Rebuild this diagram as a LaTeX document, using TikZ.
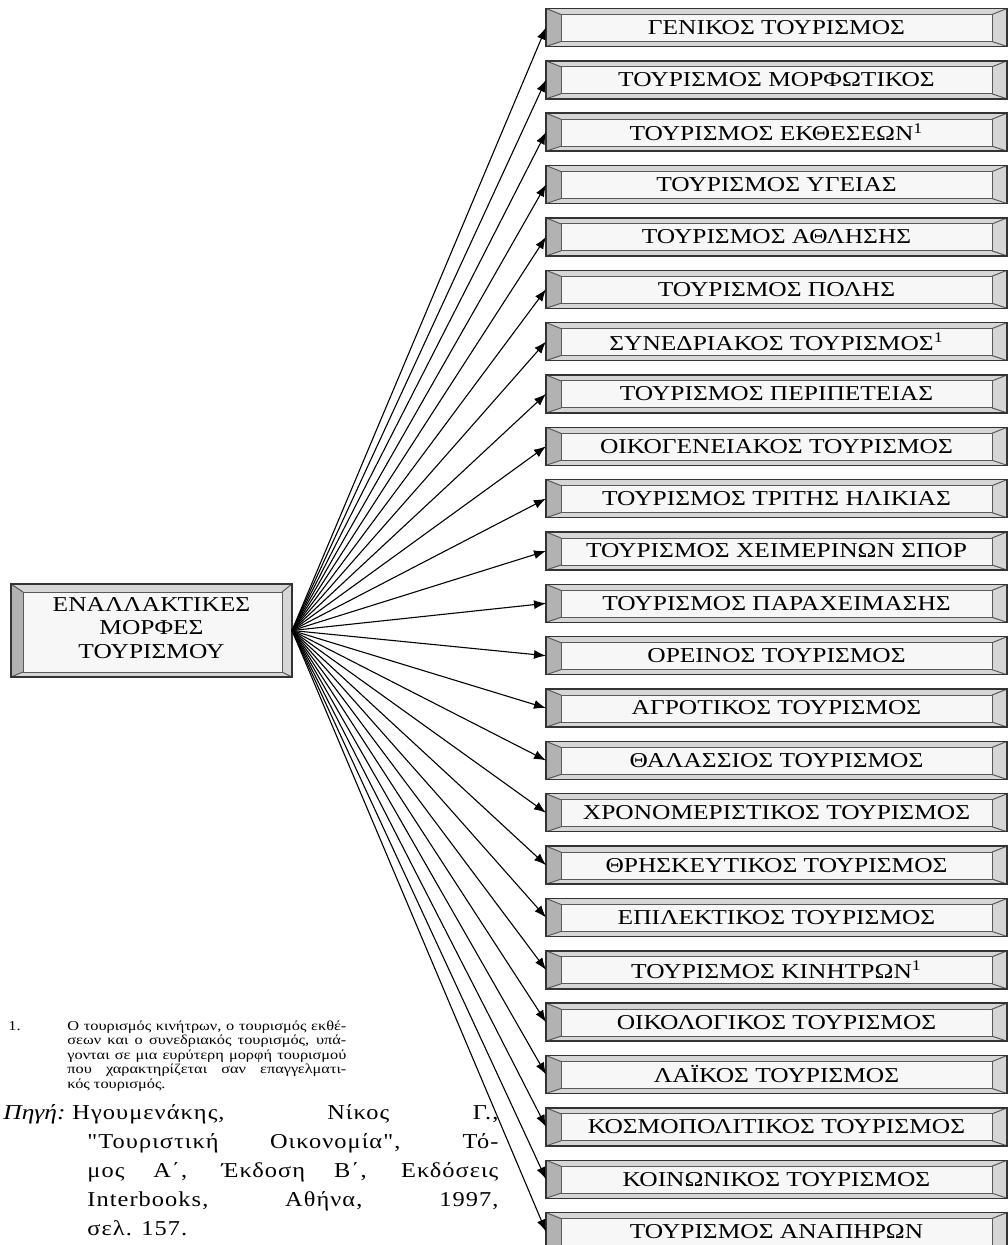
\documentclass[tikz,border=0pt]{standalone}
\usepackage{fontspec}
\setmainfont{Liberation Serif}
\newfontfamily\widefont[FakeStretch=1.2]{Liberation Serif}
\newfontfamily\reffont[FakeStretch=1.15,LetterSpace=5]{Liberation Serif}
\usetikzlibrary{arrows.meta,calc}

\tikzset{
  framebox/.style n args={4}{draw=black!80, line width=0.7pt, fill=black!16,
    inner sep=0pt, outer sep=0pt,
    path picture={
      \coordinate (pnw) at (path picture bounding box.north west);
      \coordinate (pse) at (path picture bounding box.south east);
      \coordinate (qnw) at ($(pnw)+(#1,#3)$);
      \coordinate (qse) at ($(pse)+(-#2,-#4)$);
      \fill[black!30] (pnw) -- (qnw) -- (qnw|-qse) -- (pnw|-pse) -- cycle;
      \filldraw[fill=black!3, draw=black!65, line width=0.5pt] (qnw) rectangle (qse);
      \draw[black!65, line width=0.5pt] (pnw) -- (qnw) (pse) -- (qse)
        (pnw-|pse) -- (qnw-|qse) (pnw|-pse) -- (qnw|-qse);
    }},
  formbox/.style={framebox={15}{15}{6}{5}, minimum width=230.5pt, minimum height=19pt,
    font=\widefont\fontsize{10.6}{12}\selectfont},
  conn/.style={-{Latex[length=6pt,width=4.5pt]}, line width=0.55pt}
}

\begin{document}
\begin{tikzpicture}[x=0.5pt, y=-0.5pt]
\pgfmathsetmacro{\pitch}{52.35}
\useasboundingbox (0,0) rectangle (1007,1245);

%% main box
\node[framebox={12}{10}{8}{5}, minimum width=140.5pt, minimum height=46.5pt,
  font=\widefont\fontsize{10.6}{11.75}\selectfont]
  (alt) at (151.5,630.5) {\raisebox{-1.5pt}[0pt][0pt]{\parbox{130pt}{\centering ΕΝΑΛΛΑΚΤΙΚΕΣ\\ΜΟΡΦΕΣ\\ΤΟΥΡΙΣΜΟΥ}}};

%% forms of tourism
\foreach \kind [count=\i] in {ΓΕΝΙΚΟΣ ΤΟΥΡΙΣΜΟΣ, ΤΟΥΡΙΣΜΟΣ ΜΟΡΦΩΤΙΚΟΣ,
    ΤΟΥΡΙΣΜΟΣ ΕΚΘΕΣΕΩΝ\textsuperscript{1}, ΤΟΥΡΙΣΜΟΣ ΥΓΕΙΑΣ,
    ΤΟΥΡΙΣΜΟΣ ΑΘΛΗΣΗΣ, ΤΟΥΡΙΣΜΟΣ ΠΟΛΗΣ,
    ΣΥΝΕΔΡΙΑΚΟΣ ΤΟΥΡΙΣΜΟΣ\textsuperscript{1}, ΤΟΥΡΙΣΜΟΣ ΠΕΡΙΠΕΤΕΙΑΣ,
    ΟΙΚΟΓΕΝΕΙΑΚΟΣ ΤΟΥΡΙΣΜΟΣ, ΤΟΥΡΙΣΜΟΣ ΤΡΙΤΗΣ ΗΛΙΚΙΑΣ,
    ΤΟΥΡΙΣΜΟΣ ΧΕΙΜΕΡΙΝΩΝ ΣΠΟΡ, ΤΟΥΡΙΣΜΟΣ ΠΑΡΑΧΕΙΜΑΣΗΣ,
    ΟΡΕΙΝΟΣ ΤΟΥΡΙΣΜΟΣ, ΑΓΡΟΤΙΚΟΣ ΤΟΥΡΙΣΜΟΣ,
    ΘΑΛΑΣΣΙΟΣ ΤΟΥΡΙΣΜΟΣ, ΧΡΟΝΟΜΕΡΙΣΤΙΚΟΣ ΤΟΥΡΙΣΜΟΣ,
    ΘΡΗΣΚΕΥΤΙΚΟΣ ΤΟΥΡΙΣΜΟΣ, ΕΠΙΛΕΚΤΙΚΟΣ ΤΟΥΡΙΣΜΟΣ,
    ΤΟΥΡΙΣΜΟΣ ΚΙΝΗΤΡΩΝ\textsuperscript{1}, ΟΙΚΟΛΟΓΙΚΟΣ ΤΟΥΡΙΣΜΟΣ,
    ΛΑΪΚΟΣ ΤΟΥΡΙΣΜΟΣ, ΚΟΣΜΟΠΟΛΙΤΙΚΟΣ ΤΟΥΡΙΣΜΟΣ,
    ΚΟΙΝΩΝΙΚΟΣ ΤΟΥΡΙΣΜΟΣ, ΤΟΥΡΙΣΜΟΣ ΑΝΑΠΗΡΩΝ} {
  \node[formbox] (f\i) at (776.5,{27.5+(\i-1)*\pitch}) {\kind};
  \draw[conn] (alt.east) -- (f\i.west);
}

%% footnote
\node[anchor=north west, inner sep=0pt, align=left,
  font=\widefont\fontsize{6.8}{7.25}\selectfont] (note) at (8,1020)
  {\makebox[29.5pt][l]{1.}\makebox[139.5pt][s]{Ο τουρισμός κινήτρων, ο τουρισμός εκθέ-}\\
   \hspace*{29.5pt}\makebox[139.5pt][s]{σεων και ο συνεδριακός τουρισμός, υπά-}\\
   \hspace*{29.5pt}\makebox[139.5pt][s]{γονται σε μια ευρύτερη μορφή τουρισμού}\\
   \hspace*{29.5pt}\makebox[139.5pt][s]{που χαρακτηρίζεται σαν επαγγελματι-}\\
   \hspace*{29.5pt}κός τουρισμός.};

%% source
\node[anchor=north west, inner sep=0pt, font=\widefont\fontsize{10.6}{14.5}\selectfont]
  (srclbl) at (3,1104) {\textit{Πηγή:}};
\node[anchor=north west, inner sep=0pt, align=left,
  font=\reffont\fontsize{10.6}{14.5}\selectfont] (ref) at (72,1104)
  {\makebox[213pt][s]{Ηγουμενάκης, Νίκος Γ.,}\\
   \hspace*{7.5pt}\makebox[205.5pt][s]{"Τουριστική Οικονομία", Τό-}\\
   \hspace*{7.5pt}\makebox[205.5pt][s]{μος Α΄, Έκδοση Β΄, Εκδόσεις}\\
   \hspace*{7.5pt}\makebox[205.5pt][s]{Interbooks, Αθήνα, 1997,}\\
   \hspace*{7.5pt}σελ. 157.};
\end{tikzpicture}
\end{document}
